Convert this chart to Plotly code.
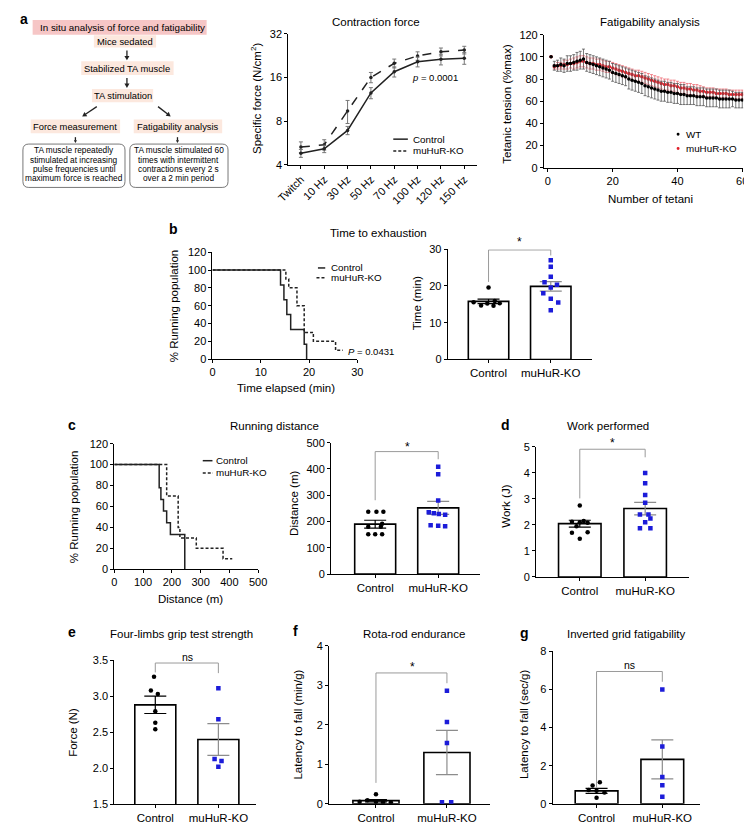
import math
import plotly.graph_objects as go

W, H = 752, 824
FONT = "Liberation Sans, Arial, Helvetica, sans-serif"

# ---------------- data ----------------
freq_labels = ["Twitch", "10 Hz", "30 Hz", "50 Hz", "70 Hz", "100 Hz", "120 Hz", "150 Hz"]
force_control = [4.8, 5.15, 6.9, 12.5, 17.5, 20.5, 21.3, 21.7]
force_control_err = [0.3, 0.3, 0.45, 1.1, 1.4, 1.6, 1.8, 2.0]
force_ko = [5.3, 5.5, 9.4, 16.0, 20.0, 22.5, 24.0, 24.7]
force_ko_err = [0.45, 0.45, 1.7, 1.3, 1.4, 1.5, 1.5, 1.5]

tetani = list(range(1, 61))
wt_tension = [100, 92, 92, 93, 92, 94, 94, 95, 96, 97,
              98, 95, 94, 93, 92, 91, 90, 89, 88, 86,
              85, 84, 83, 82, 80, 79, 78, 77, 76, 74,
              73, 72, 71, 70, 69, 69, 68, 68, 67, 67,
              66, 66, 65, 65, 65, 64, 64, 64, 63, 63,
              63, 63, 62, 62, 62, 62, 62, 61, 61, 61]
wt_err = [0, 4, 5, 6, 6, 7, 7, 7, 8, 8,
          9, 8, 8, 8, 8, 8, 8, 8, 8, 8,
          8, 8, 8, 8, 9, 9, 9, 9, 9, 9,
          9, 9, 9, 9, 9, 9, 9, 9, 9, 9,
          9, 9, 8, 8, 8, 8, 8, 8, 8, 8,
          8, 8, 8, 8, 8, 8, 7, 7, 7, 7]
ko_tension = [100, 91, 92, 92, 93, 93, 94, 94, 95, 96,
              96, 95, 94, 94, 93, 93, 92, 91, 91, 90,
              89, 88, 87, 86, 85, 84, 83, 83, 82, 81,
              80, 79, 78, 77, 76, 75, 75, 74, 74, 73,
              72, 72, 71, 71, 70, 70, 69, 69, 68, 68,
              68, 67, 67, 67, 67, 66, 66, 66, 66, 66]
ko_err = [0, 2, 3, 3, 4, 4, 4, 5, 5, 5,
          5, 5, 5, 5, 5, 5, 5, 5, 5, 5,
          5, 5, 5, 5, 5, 5, 5, 5, 5, 5,
          5, 5, 5, 5, 5, 5, 5, 5, 5, 5,
          5, 5, 5, 5, 5, 5, 5, 4, 4, 4,
          4, 4, 4, 4, 4, 4, 4, 4, 4, 4]

# Kaplan-Meier style running curves
b_ctrl_time = [0, 14.1, 14.8, 15.4, 16.2, 19.0, 19.5]
b_ctrl_pct = [100, 83.3, 66.7, 50.0, 33.3, 16.7, 0]
b_ko_time = [0, 15.2, 15.8, 17.5, 19.0, 20.9, 25.5, 27.0]
b_ko_pct = [100, 90, 80, 60, 30, 20, 10, 10]

c_ctrl_dist = [0, 156, 162, 171, 182, 195, 245]
c_ctrl_pct = [100, 77.8, 66.7, 55.6, 44.4, 33.3, 0]
c_ko_dist = [0, 182, 222, 228, 285, 378, 410]
c_ko_pct = [100, 70, 40, 30, 20, 10, 10]

groups = ["Control", "muHuR-KO"]

b_means, b_sem = [15.8, 19.9], [0.6, 1.3]
b_ctrl_vals = [19.6, 15.6, 14.7, 15.2, 14.6, 15.3, 15.9]
b_ko_vals = [27.0, 25.2, 22.5, 21.0, 20.3, 19.6, 18.0, 16.5, 15.5, 13.4]

c_means, c_sem = [190, 252], [15, 25]
c_ctrl_vals = [237, 237, 237, 192, 180, 180, 152, 152, 152]
c_ko_vals = [408, 380, 280, 235, 232, 229, 226, 186, 184, 182]

d_means, d_sem = [2.05, 2.63], [0.13, 0.24]
d_ctrl_vals = [2.75, 2.12, 2.10, 2.08, 2.15, 1.95, 1.70, 1.72, 1.47]
d_ko_vals = [4.0, 3.6, 3.15, 2.85, 2.4, 2.4, 2.25, 2.1, 1.87, 1.87]

e_means, e_sem = [2.88, 2.40], [0.12, 0.22]
e_ctrl_vals = [3.27, 3.08, 3.03, 2.79, 2.63, 2.54]
e_ko_vals = [3.11, 2.68, 2.13, 2.10, 2.02]

f_means, f_sem = [0.08, 1.30], [0.03, 0.56]
f_ctrl_vals = [0.24, 0.05, 0.09, 0.05, 0.04, 0.04]
f_ko_vals = [2.86, 2.07, 1.54, 0.04, 0.04]

g_means, g_sem = [0.68, 2.33], [0.13, 1.02]
g_ctrl_vals = [1.13, 0.96, 0.72, 0.68, 0.60, 0.32]
g_ko_vals = [6.0, 3.0, 1.41, 0.97, 0.37]

# ---------------- styling / positions (not data) ----------------
b_ctrl_off = [0.0, -0.24, -0.12, -0.02, 0.08, 0.18, 0.1]
b_ko_off = [0.0, 0.0, 0.0, -0.1, 0.1, 0.0, -0.12, 0.0, 0.12, 0.0]
c_ctrl_off = [-0.11, 0.02, 0.13, 0.11, -0.11, 0.09, -0.11, 0.0, 0.11]
c_ko_off = [0, 0, 0, -0.15, -0.07, 0.01, 0.11, -0.12, 0.0, 0.11]
d_ctrl_off = [0.0, -0.12, 0.0, 0.12, 0.06, -0.05, -0.12, 0.12, 0.0]
d_ko_off = [0, 0, 0, 0, -0.08, 0.05, 0.08, 0, -0.08, 0.08]
e_ctrl_off = [-0.02, -0.07, 0.04, 0.0, 0.0, 0.0]
e_ko_off = [0.0, 0.0, -0.06, 0.05, 0.0]
f_ctrl_off = [0.0, -0.23, -0.12, 0.0, 0.1, 0.21]
f_ko_off = [0.0, 0.0, 0.0, -0.07, 0.06]
g_ctrl_off = [0.05, -0.06, -0.12, 0.0, 0.12, 0.0]
g_ko_off = [0, 0, 0, 0, 0]

BLUE = "#1c1cd9"
RED = "#e0202a"
GRAY = "#8c8c8c"
BR = "#9a9a9a"

fig = go.Figure()
layout = {}


def px(x):
    return x / W


def py(y):
    return 1 - y / H


def add_axes(i, xd, yd, xr, yr, xkw=None, ykw=None):
    xn = "xaxis" if i == 1 else f"xaxis{i}"
    yn = "yaxis" if i == 1 else f"yaxis{i}"
    base = dict(showline=True, linecolor="black", linewidth=1, ticks="outside",
                ticklen=3, tickwidth=1, tickcolor="black", showgrid=False,
                zeroline=False, tickfont=dict(size=11, color="black", family=FONT),
                fixedrange=True)
    xa = dict(base, domain=[px(xd[0]), px(xd[1])], range=xr,
              anchor="y" if i == 1 else f"y{i}")
    ya = dict(base, domain=[py(yd[1]), py(yd[0])], range=yr,
              anchor="x" if i == 1 else f"x{i}")
    if xkw:
        xa.update(xkw)
    if ykw:
        ya.update(ykw)
    layout[xn] = xa
    layout[yn] = ya


def refs(i):
    return ("x", "y") if i == 1 else (f"x{i}", f"y{i}")


annotations = []
shapes = []


def text(x, y, s, size=11, bold=False, angle=0, xanchor="center", color="black"):
    if bold:
        s = f"<b>{s}</b>"
    annotations.append(dict(x=px(x), y=py(y), xref="paper", yref="paper", text=s,
                            showarrow=False, xanchor=xanchor, yanchor="middle",
                            textangle=angle,
                            font=dict(size=size, color=color, family=FONT)))


# ---------- panel a: contraction force ----------
add_axes(1, (276, 470), (20, 153), [-0.54, 7.54], [math.log10(4), math.log10(32)],
         xkw=dict(tickvals=list(range(8)), ticktext=freq_labels, tickangle=-45),
         ykw=dict(type="log", tickvals=[4, 8, 16, 32], ticktext=["4", "8", "16", "32"]))
xr, yr = refs(1)
idx = list(range(len(freq_labels)))
fig.add_trace(go.Scatter(x=idx, y=force_ko, mode="lines+markers", xaxis=xr, yaxis=yr,
                         line=dict(color="#222", width=1.5, dash="dash"),
                         marker=dict(size=3.5, color="#222"),
                         error_y=dict(type="data", array=force_ko_err, color="#777", thickness=1, width=2)))
fig.add_trace(go.Scatter(x=idx, y=force_control, mode="lines+markers", xaxis=xr, yaxis=yr,
                         line=dict(color="#222", width=1.5),
                         marker=dict(size=3.5, color="#222"),
                         error_y=dict(type="data", array=force_control_err, color="#777", thickness=1, width=2)))
text(366, 8, "Contraction force", 11.5)
text(243, 86, "Specific force (N/cm<sup>2</sup>)", 11.5, angle=-90)
text(453, 64, "<i>p</i> = 0.0001", 9.5, xanchor="right")
shapes.append(dict(type="line", xref="paper", yref="paper", x0=px(384), x1=px(399), y0=py(127), y1=py(127),
                   line=dict(color="#222", width=1.5)))
shapes.append(dict(type="line", xref="paper", yref="paper", x0=px(384), x1=px(399), y0=py(139), y1=py(139),
                   line=dict(color="#222", width=1.5, dash="3px,2px")))
text(402, 127, "Control", 9.8, xanchor="left")
text(402, 139, "muHuR-KO", 9.8, xanchor="left")

# ---------- panel a: fatigability ----------
add_axes(2, (539, 744), (21, 156), [-1.2, 60.3], [0, 120],
         xkw=dict(tickvals=[0, 20, 40, 60]), ykw=dict(dtick=20))
xr, yr = refs(2)
fig.add_trace(go.Scatter(x=tetani, y=ko_tension, mode="markers", xaxis=xr, yaxis=yr,
                         marker=dict(size=3.5, color=RED),
                         error_y=dict(type="data", array=ko_err, color="#ec6a72", thickness=0.8, width=1.5)))
fig.add_trace(go.Scatter(x=tetani, y=wt_tension, mode="markers", xaxis=xr, yaxis=yr,
                         marker=dict(size=3.5, color="black"),
                         error_y=dict(type="data", array=wt_err, color="#555", thickness=0.8, width=1.5)))
text(648, 8, "Fatigability analysis", 11.5)
text(501, 91, "Tetanic tension (%max)", 11.5, angle=-90)
text(649, 188, "Number of tetani", 11.5)
shapes.append(dict(type="circle", xref="paper", yref="paper", x0=px(675.5), x1=px(678.5),
                   y0=py(123.5), y1=py(120.5), fillcolor="black", line=dict(width=0)))
shapes.append(dict(type="circle", xref="paper", yref="paper", x0=px(675.5), x1=px(678.5),
                   y0=py(138), y1=py(135), fillcolor=RED, line=dict(width=0)))
text(683, 122, "WT", 9.8, xanchor="left")
text(683, 136.5, "muHuR-KO", 9.8, xanchor="left")

# ---------- flowchart ----------
def rect(x0, y0, x1, y1, fill, line=None):
    shapes.append(dict(type="rect", xref="paper", yref="paper", x0=px(x0), x1=px(x1),
                       y0=py(y1), y1=py(y0), fillcolor=fill,
                       line=dict(width=0) if line is None else line, layer="below"))


def rrect(x0, y0, x1, y1, r):
    X = lambda v: f"{px(v):.5f}"
    Y = lambda v: f"{py(v):.5f}"
    p = (f"M{X(x0 + r)},{Y(y0)} L{X(x1 - r)},{Y(y0)} Q{X(x1)},{Y(y0)} {X(x1)},{Y(y0 + r)} "
         f"L{X(x1)},{Y(y1 - r)} Q{X(x1)},{Y(y1)} {X(x1 - r)},{Y(y1)} "
         f"L{X(x0 + r)},{Y(y1)} Q{X(x0)},{Y(y1)} {X(x0)},{Y(y1 - r)} "
         f"L{X(x0)},{Y(y0 + r)} Q{X(x0)},{Y(y0)} {X(x0 + r)},{Y(y0)} Z")
    shapes.append(dict(type="path", xref="paper", yref="paper", path=p,
                       line=dict(color="#555", width=0.8), fillcolor="white"))


def arrow(x0, y0, x1, y1, L=4.5, w=2.6):
    dx, dy = x1 - x0, y1 - y0
    n = math.hypot(dx, dy)
    ux, uy = dx / n, dy / n
    bx, by = x1 - L * ux, y1 - L * uy
    shapes.append(dict(type="line", xref="paper", yref="paper", x0=px(x0), y0=py(y0),
                       x1=px(bx + 0.5 * ux), y1=py(by + 0.5 * uy),
                       line=dict(color="#222", width=1.3)))
    lx, ly = bx - w * uy, by + w * ux
    rx, ry = bx + w * uy, by - w * ux
    p = (f"M{px(x1):.5f},{py(y1):.5f} L{px(lx):.5f},{py(ly):.5f} "
         f"L{px(rx):.5f},{py(ry):.5f} Z")
    shapes.append(dict(type="path", xref="paper", yref="paper", path=p,
                       fillcolor="#222", line=dict(width=0)))


PEACH = "#fce8de"
rect(13, 6, 192, 21, "#f6c6c6")
text(105, 14, "In situ analysis of force and fatigability", 9.8)
rect(76, 21.5, 140, 34, PEACH)
text(108, 28, "Mice sedated", 9.4)
arrow(110, 37, 110, 47)
rect(63, 48, 158, 62, PEACH)
text(110.5, 55, "Stabilized TA muscle", 9.4)
arrow(110, 65, 110, 75)
rect(74, 76, 137, 89.5, PEACH)
text(105.5, 83, "TA stimulation", 9.4)
arrow(79, 94, 64, 104)
arrow(142, 94, 155, 104)
rect(11, 107, 103, 121, PEACH)
text(57, 114, "Force measurement", 9.4)
rect(117, 107, 208, 121, PEACH)
text(162.5, 114, "Fatigability analysis", 9.4)
arrow(57, 125, 57, 131, L=3, w=1.6)
arrow(162, 125, 162, 131, L=3, w=1.6)
rrect(3, 132, 108, 176, 6)
rrect(113, 132, 214, 176, 6)
for k, s in enumerate(["TA muscle repeatedly", "stimulated at increasing",
                       "pulse frequencies until", "maximum force is reached"]):
    text(56, 138.5 + 9.3 * k, s, 8.3)
for k, s in enumerate(["TA muscle stimulated 60", "times with intermittent",
                       "contractions every 2 s", "over a 2 min period"]):
    text(163.5, 138.5 + 9.3 * k, s, 8.3)

# ---------- panel letters ----------
for (lx, ly, s) in [(4, 5, "a"), (157.5, 218, "b"), (53.5, 417, "c"), (499, 417.5, "d"),
                    (53, 627, "e"), (283.5, 626.5, "f"), (519.5, 628, "g")]:
    text(lx, ly, s, 14, bold=True)

# ---------- survival plots ----------
def survival(i, xs_c, ys_c, xs_k, ys_k):
    xr, yr = refs(i)
    fig.add_trace(go.Scatter(x=xs_c, y=ys_c, mode="lines", line_shape="hv", xaxis=xr, yaxis=yr,
                             line=dict(color="#222", width=1.5)))
    fig.add_trace(go.Scatter(x=xs_k, y=ys_k, mode="lines", line_shape="hv", xaxis=xr, yaxis=yr,
                             line=dict(color="#222", width=1.5, dash="3px,2px")))


add_axes(3, (198, 347), (241.7, 350.3), [0, 30], [0, 120],
         xkw=dict(dtick=10), ykw=dict(dtick=20))
survival(3, b_ctrl_time, b_ctrl_pct, b_ko_time, b_ko_pct)
text(158, 296, "% Running population", 11.5, angle=-90)
text(274, 380, "Time elapsed (min)", 11.5)
text(369, 222, "Time to exhaustion", 11.5)
text(361, 342, "<i>P</i> = 0.0431", 9.5)
shapes.append(dict(type="line", xref="paper", yref="paper", x0=px(306.5), x1=px(314), y0=py(257.7), y1=py(257.7),
                   line=dict(color="#222", width=1.5)))
shapes.append(dict(type="line", xref="paper", yref="paper", x0=px(305), x1=px(315), y0=py(267.7), y1=py(267.7),
                   line=dict(color="#222", width=1.5, dash="3px,2px")))
text(318, 257.7, "Control", 9.8, xanchor="left")
text(318, 267.7, "muHuR-KO", 9.8, xanchor="left")

add_axes(5, (97, 245), (436, 563.5), [0, 500], [0, 120],
         xkw=dict(dtick=100), ykw=dict(dtick=20))
survival(5, c_ctrl_dist, c_ctrl_pct, c_ko_dist, c_ko_pct)
text(55, 500, "% Running population", 11.5, angle=-90)
text(175, 594, "Distance (m)", 11.5)
text(262, 418, "Running distance", 11.5)
shapes.append(dict(type="line", xref="paper", yref="paper", x0=px(188), x1=px(198), y0=py(453.3), y1=py(453.3),
                   line=dict(color="#222", width=1.5)))
shapes.append(dict(type="line", xref="paper", yref="paper", x0=px(188), x1=px(198.5), y0=py(465.7), y1=py(465.7),
                   line=dict(color="#222", width=1.5, dash="3px,2px")))
text(200, 453.3, "Control", 9.8, xanchor="left")
text(200, 465.7, "muHuR-KO", 9.8, xanchor="left")


# ---------- bar charts ----------
def barpanel(i, xd, yd, xrng, yrng, ykw, means, sem, cvals, coff, kvals, koff,
             bracket, sig, sig_pos, sig_size):
    add_axes(i, xd, yd, xrng, yrng,
             xkw=dict(tickvals=[0, 1], ticktext=groups, tickfont=dict(size=11.5, color="black", family=FONT)),
             ykw=ykw)
    xr, yr = refs(i)
    for g, col in ((0, "black"), (1, GRAY)):
        fig.add_trace(go.Bar(x=[g], y=[means[g]], width=[0.65], xaxis=xr, yaxis=yr,
                             marker=dict(color="white", line=dict(color="black", width=1.6)),
                             error_y=dict(type="data", array=[sem[g]], color=col, thickness=1.2, width=11)))
    fig.add_trace(go.Scatter(x=[0 + o for o in coff], y=cvals, mode="markers", xaxis=xr, yaxis=yr,
                             marker=dict(color="black", size=4.5, symbol="circle")))
    fig.add_trace(go.Scatter(x=[1 + o for o in koff], y=kvals, mode="markers", xaxis=xr, yaxis=yr,
                             marker=dict(color=BLUE, size=4.5, symbol="square")))
    lb, top, rb = bracket
    fig.add_trace(go.Scatter(x=[0, 0, 1, 1], y=[lb, top, top, rb], mode="lines", xaxis=xr, yaxis=yr,
                             line=dict(color=BR, width=1)))
    text(sig_pos[0], sig_pos[1], sig, sig_size)


barpanel(4, (440, 588), (238.7, 350.6), [-0.656, 1.656], [0, 30], dict(dtick=10),
         b_means, b_sem, b_ctrl_vals, b_ctrl_off, b_ko_vals, b_ko_off,
         (21.1, 29.8, 28.3), "*", (514, 231), 12)
text(408, 293, "Time (min)", 11.5, angle=-90)

barpanel(6, (320, 473), (435, 568.4), [-0.7, 1.66], [0, 500], dict(dtick=100),
         c_means, c_sem, c_ctrl_vals, c_ctrl_off, c_ko_vals, c_ko_off,
         (281, 466, 437), "*", (399, 439), 12)
text(282, 497, "Distance (m)", 11.5, angle=-90)

barpanel(7, (531, 688), (439.3, 571.3), [-0.667, 1.667], [0, 5], dict(dtick=1),
         d_means, d_sem, d_ctrl_vals, d_ctrl_off, d_ko_vals, d_ko_off,
         (3.02, 4.91, 4.6), "*", (610, 435), 12)
text(500, 500, "Work (J)", 11.5, angle=-90)
text(605, 418, "Work performed", 11.5)

barpanel(8, (97, 243), (655.7, 802), [-0.65, 1.6], [1.5, 3.5], dict(dtick=0.5, tickformat=".1f"),
         e_means, e_sem, e_ctrl_vals, e_ctrl_off, e_ko_vals, e_ko_off,
         (3.33, 3.46, 3.32), "ns", (172, 652), 10.5)
text(55, 729, "Force (N)", 11.5, angle=-90)
text(166, 629, "Four-limbs grip test strength", 11.5)

barpanel(9, (318, 483), (641, 801.5), [-0.66, 1.6], [0, 4], dict(dtick=1),
         f_means, f_sem, f_ctrl_vals, f_ctrl_off, f_ko_vals, f_ko_off,
         (0.53, 3.31, 3.05), "*", (403.3, 663), 12)
text(285, 721, "Latency to fall (min/g)", 11.5, angle=-90)
text(405.5, 629, "Rota-rod endurance", 11.5)

barpanel(10, (548, 700), (646.7, 801.5), [-0.667, 1.58], [0, 8], dict(dtick=2),
         g_means, g_sem, g_ctrl_vals, g_ctrl_off, g_ko_vals, g_ko_off,
         (0.84, 6.94, 6.4), "ns", (627.5, 661), 10.5)
text(518, 721, "Latency to fall (sec/g)", 11.5, angle=-90)
text(624, 629, "Inverted grid fatigability", 11.5)

fig.update_traces(hoverinfo="skip", showlegend=False)
fig.update_layout(**layout)
fig.update_layout(width=W, height=H, margin=dict(l=0, r=0, t=0, b=0),
                  paper_bgcolor="white", plot_bgcolor="white", barmode="overlay",
                  showlegend=False, font=dict(family=FONT, color="black", size=11),
                  annotations=annotations, shapes=shapes)
fig.write_html("out.html")
